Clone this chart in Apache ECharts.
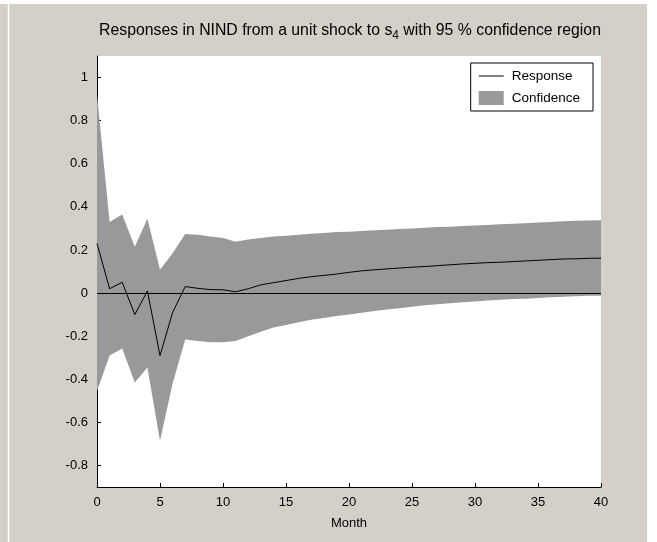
<!DOCTYPE html>
<html>
<head>
<meta charset="utf-8">
<script src="https://cdn.jsdelivr.net/npm/echarts@6/dist/echarts.min.js"></script>
<style>
  html, body { margin: 0; padding: 0; background: #ffffff; }
  #chart { width: 657px; height: 542px; }
</style>
</head>
<body>
<div id="chart"></div>
<script>
// Impulse response of NIND to a unit shock in s4, months 0..40
const months = [0,1,2,3,4,5,6,7,8,9,10,11,12,13,14,15,16,17,18,19,20,
                21,22,23,24,25,26,27,28,29,30,31,32,33,34,35,36,37,38,39,40];

const response = [0.23, 0.02, 0.05, -0.10, 0.01, -0.29, -0.09, 0.03, 0.022, 0.016, 0.015,
                  0.006, 0.02, 0.038, 0.048, 0.058, 0.068, 0.076, 0.082, 0.088, 0.096,
                  0.103, 0.108, 0.112, 0.116, 0.12, 0.123, 0.127, 0.131, 0.135, 0.138,
                  0.141, 0.143, 0.146, 0.149, 0.152, 0.155, 0.158, 0.159, 0.161, 0.162];

const upperBound = [0.92, 0.33, 0.365, 0.215, 0.345, 0.108, 0.185, 0.274, 0.27, 0.262, 0.255,
                    0.238, 0.248, 0.256, 0.262, 0.266, 0.271, 0.275, 0.279, 0.283, 0.285,
                    0.288, 0.291, 0.294, 0.297, 0.3, 0.303, 0.306, 0.308, 0.311, 0.314,
                    0.316, 0.319, 0.321, 0.324, 0.327, 0.33, 0.333, 0.335, 0.337, 0.338];

const lowerBound = [-0.455, -0.29, -0.257, -0.415, -0.346, -0.685, -0.42, -0.215, -0.222, -0.228, -0.228,
                    -0.222, -0.2, -0.18, -0.16, -0.148, -0.135, -0.124, -0.116, -0.107, -0.1,
                    -0.091, -0.083, -0.076, -0.07, -0.063, -0.057, -0.052, -0.047, -0.043, -0.039,
                    -0.035, -0.031, -0.028, -0.026, -0.023, -0.02, -0.017, -0.015, -0.013, -0.012];

const yTicks = [-0.8, -0.6, -0.4, -0.2, 0, 0.2, 0.4, 0.6, 0.8, 1];
const xTicks = [0, 5, 10, 15, 20, 25, 30, 35, 40];

const FONT = 'Arial, "Liberation Sans", Helvetica, sans-serif';
const BAND = '#999999';

const pairs = (vals) => months.map((m, i) => [m, vals[i]]);
const bandRows = months.map((m, i) => [m, lowerBound[i], upperBound[i]]);

// Confidence region: one closed polygon, upper edge left-to-right then lower edge back
function renderBand(params, api) {
  if (params.dataIndex !== 0) return null;
  const top = bandRows.map(r => api.coord([r[0], r[2]]));
  const bottom = bandRows.slice().reverse().map(r => api.coord([r[0], r[1]]));
  return {
    type: 'polygon',
    shape: { points: top.concat(bottom) },
    style: { fill: BAND, stroke: null },
    silent: true
  };
}

const chart = echarts.init(document.getElementById('chart'), null, { renderer: 'canvas' });

chart.setOption({
  backgroundColor: '#ffffff',
  animation: false,
  graphic: [
    { type: 'rect', z: -10, silent: true, shape: { x: 0, y: 4, width: 647, height: 538 },
      style: { fill: '#d4d0c8' } },
    { type: 'line', z: -9, silent: true, shape: { x1: 8.5, y1: 4, x2: 8.5, y2: 542 },
      style: { stroke: '#ffffff', lineWidth: 1.5 } }
  ],
  title: {
    text: 'Responses in NIND from a unit shock to s{sub|4} with 95 % confidence region',
    left: 345,
    top: 15,
    textAlign: 'center',
    textStyle: {
      fontFamily: FONT, fontSize: 15.8, fontWeight: 'normal', color: '#000',
      rich: {
        sub: { fontFamily: FONT, fontSize: 12, color: '#000', padding: [10, 0, 0, 0], verticalAlign: 'bottom' }
      }
    }
  },
  legend: {
    right: 64,
    top: 63,
    orient: 'vertical',
    align: 'left',
    backgroundColor: '#ffffff',
    borderColor: '#000000',
    borderWidth: 1,
    borderRadius: 0,
    padding: [6, 13, 6, 8],
    itemWidth: 25,
    itemHeight: 14,
    itemGap: 8,
    textStyle: { fontFamily: FONT, fontSize: 13.5, color: '#000', padding: [0, 0, 0, 3] },
    data: [
      { name: 'Response', icon: 'path://M0,0 L25,0 L25,1 L0,1 Z', itemStyle: { color: '#000' } },
      { name: 'Confidence', icon: 'rect', itemStyle: { color: BAND } }
    ]
  },
  grid: {
    left: 97, right: 56, top: 56, bottom: 55,
    show: true, backgroundColor: '#ffffff', borderWidth: 0
  },
  xAxis: {
    type: 'value',
    min: 0, max: 40, interval: 5,
    name: 'Month',
    nameLocation: 'middle',
    nameGap: 30,
    nameTextStyle: { fontFamily: FONT, fontSize: 13, color: '#000' },
    axisLine: { show: true, onZero: false, lineStyle: { color: '#000', width: 1 } },
    axisTick: { show: true, inside: true, length: 4, lineStyle: { color: '#000' } },
    axisLabel: { margin: 9, fontFamily: FONT, fontSize: 13, color: '#000',
                 customValues: xTicks },
    splitLine: { show: false }
  },
  yAxis: {
    type: 'value',
    min: -0.9, max: 1.1,
    axisLine: { show: true, onZero: false, lineStyle: { color: '#000', width: 1 } },
    axisTick: { show: true, inside: true, length: 4, lineStyle: { color: '#000' },
                customValues: yTicks },
    axisLabel: { margin: 9, fontFamily: FONT, fontSize: 13, color: '#000',
                 customValues: yTicks,
                 formatter: (v) => String(Math.round(v * 10) / 10) },
    splitLine: { show: false }
  },
  series: [
    {
      name: 'Confidence',
      type: 'custom',
      renderItem: renderBand,
      data: bandRows,
      encode: { x: 0, y: [1, 2] },
      itemStyle: { color: BAND },
      clip: true,
      silent: true,
      z: 1
    },
    {
      name: 'Response',
      type: 'line',
      data: pairs(response),
      symbol: 'none',
      lineStyle: { color: '#000', width: 1 },
      itemStyle: { color: '#000' },
      z: 4,
      markLine: {
        silent: true,
        symbol: 'none',
        label: { show: false },
        lineStyle: { color: '#000', width: 1, type: 'solid' },
        data: [{ yAxis: 0 }]
      }
    }
  ]
});
</script>
</body>
</html>
